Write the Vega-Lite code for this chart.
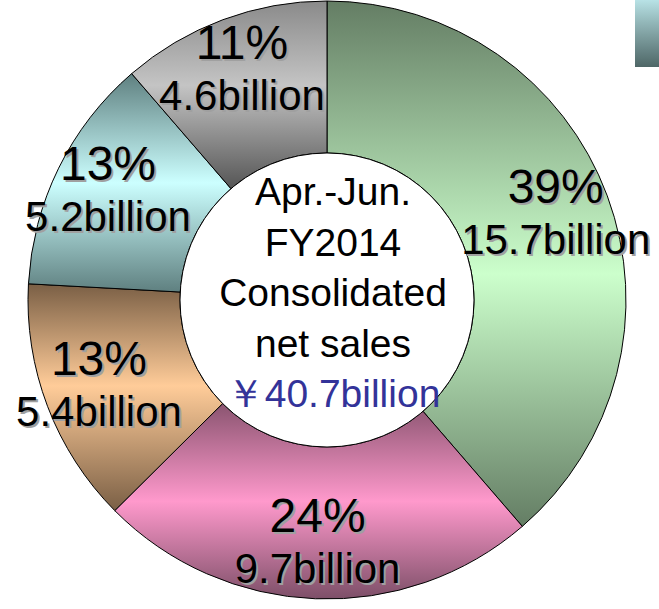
{
  "$schema": "https://vega.github.io/schema/vega-lite/v6.json",
  "width": 654,
  "height": 600,
  "autosize": {"type": "none"},
  "padding": {"left": 0, "top": 0, "right": 5, "bottom": 9},
  "background": "white",
  "config": {"view": {"stroke": null}, "font": "Liberation Sans"},
  "datasets": {
    "sales": [
      {"i": 1, "seg": "green", "value": 15.7, "pct": "39%", "label": "15.7billion"},
      {"i": 2, "seg": "pink", "value": 9.7, "pct": "24%", "label": "9.7billion"},
      {"i": 3, "seg": "orange", "value": 5.4, "pct": "13%", "label": "5.4billion"},
      {"i": 4, "seg": "cyan", "value": 5.2, "pct": "13%", "label": "5.2billion"},
      {"i": 5, "seg": "gray", "value": 4.6, "pct": "11%", "label": "4.6billion"}
    ],
    "center": [
      {"caption": "Apr.-Jun.\nFY2014\nConsolidated\nnet sales", "total": "￥40.7billion"}
    ]
  },
  "layer": [
    {
      "data": {"name": "sales"},
      "mark": {"type": "arc", "outerRadius": 299, "innerRadius": 147, "stroke": "black", "strokeWidth": 1},
      "encoding": {
        "theta": {"field": "value", "type": "quantitative", "stack": true},
        "order": {"field": "i", "type": "quantitative"},
        "fill": {
          "condition": [
            {"test": "datum.seg === 'green'", "value": {"gradient": "linear", "x1": 0, "y1": 0, "x2": 0, "y2": 1, "stops": [{"offset": 0, "color": "#647d64"}, {"offset": 0.52, "color": "#ccffcc"}, {"offset": 1, "color": "#647d64"}]}},
            {"test": "datum.seg === 'pink'", "value": {"gradient": "linear", "x1": 0, "y1": 0, "x2": 0, "y2": 1, "stops": [{"offset": 0, "color": "#8a5470"}, {"offset": 0.5, "color": "#ff99cc"}, {"offset": 1, "color": "#7d4f68"}]}},
            {"test": "datum.seg === 'orange'", "value": {"gradient": "linear", "x1": 0, "y1": 0, "x2": 0, "y2": 1, "stops": [{"offset": 0, "color": "#7a5f45"}, {"offset": 0.45, "color": "#ffcc99"}, {"offset": 1, "color": "#7a5f45"}]}},
            {"test": "datum.seg === 'cyan'", "value": {"gradient": "linear", "x1": 0, "y1": 0, "x2": 0, "y2": 1, "stops": [{"offset": 0, "color": "#5f8080"}, {"offset": 0.5, "color": "#ccffff"}, {"offset": 1, "color": "#5f8080"}]}}
          ],
          "value": {"gradient": "linear", "x1": 0, "y1": 0, "x2": 0, "y2": 1, "stops": [{"offset": 0, "color": "#8a8a8a"}, {"offset": 0.45, "color": "#c4c4c4"}, {"offset": 1, "color": "#555555"}]}
        }
      }
    },
    {
      "data": {"name": "center"},
      "mark": {"type": "arc", "outerRadius": 147, "innerRadius": 0, "theta": 0, "theta2": 6.2832, "fill": "white", "stroke": "black", "strokeWidth": 1},
      "encoding": {}
    },
    {
      "data": {"name": "sales"},
      "mark": {"type": "text", "radius": 244, "fontSize": 48, "baseline": "alphabetic", "align": "center", "dx": 2, "dy": -10, "color": "#a0a0a0"},
      "encoding": {"theta": {"field": "value", "type": "quantitative", "stack": true}, "order": {"field": "i", "type": "quantitative"}, "text": {"field": "pct", "type": "nominal"}}
    },
    {
      "data": {"name": "sales"},
      "mark": {"type": "text", "radius": 244, "fontSize": 48, "baseline": "alphabetic", "align": "center", "dy": -12, "color": "black"},
      "encoding": {"theta": {"field": "value", "type": "quantitative", "stack": true}, "order": {"field": "i", "type": "quantitative"}, "text": {"field": "pct", "type": "nominal"}}
    },
    {
      "data": {"name": "sales"},
      "mark": {"type": "text", "radius": 244, "fontSize": 42, "baseline": "alphabetic", "align": "center", "dx": 2, "dy": 41, "color": "#a0a0a0"},
      "encoding": {"theta": {"field": "value", "type": "quantitative", "stack": true}, "order": {"field": "i", "type": "quantitative"}, "text": {"field": "label", "type": "nominal"}}
    },
    {
      "data": {"name": "sales"},
      "mark": {"type": "text", "radius": 244, "fontSize": 42, "baseline": "alphabetic", "align": "center", "dy": 39, "color": "black"},
      "encoding": {"theta": {"field": "value", "type": "quantitative", "stack": true}, "order": {"field": "i", "type": "quantitative"}, "text": {"field": "label", "type": "nominal"}}
    },
    {
      "data": {"name": "center"},
      "mark": {"type": "text", "fontSize": 39, "baseline": "alphabetic", "align": "center", "lineBreak": "\n", "lineHeight": 50.5, "dx": 6, "dy": -95, "color": "black"},
      "encoding": {"text": {"field": "caption", "type": "nominal"}}
    },
    {
      "data": {"name": "center"},
      "mark": {"type": "text", "fontSize": 39, "baseline": "alphabetic", "align": "center", "dx": 6, "dy": 107, "color": "#333399"},
      "encoding": {"text": {"field": "total", "type": "nominal"}}
    },
    {
      "data": {"name": "sales"},
      "mark": {"type": "text", "text": ""},
      "encoding": {
        "color": {
          "field": "value",
          "type": "quantitative",
          "scale": {"range": ["#4f6767", "#b8e2e6"]},
          "legend": {"orient": "none", "legendX": 635, "legendY": 0, "direction": "vertical", "gradientLength": 67, "gradientThickness": 25, "title": null, "labelExpr": "''", "labelOpacity": 0, "gradientStrokeWidth": 0, "padding": 0}
        }
      }
    }
  ]
}
